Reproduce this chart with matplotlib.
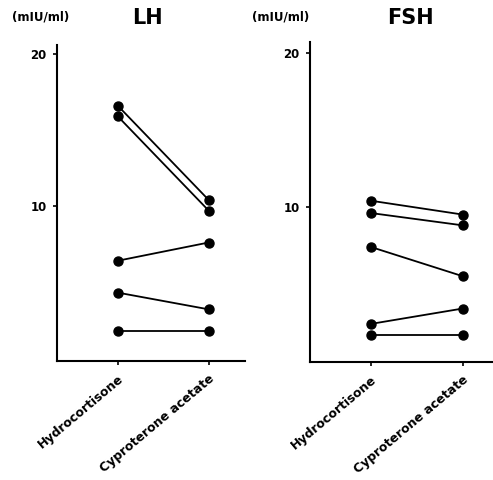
import matplotlib
matplotlib.use("Agg")
import matplotlib.pyplot as plt

plt.rcParams["font.family"] = ["DejaVu Sans"]
plt.rcParams["font.weight"] = "bold"

treatments = ["Hydrocortisone", "Cyproterone acetate"]

# LH (mIU/ml), one pair per patient
lh_hydro = [16.6, 15.9, 6.4, 4.3, 1.8]
lh_cypro = [10.4, 9.7, 7.6, 3.2, 1.8]

# FSH (mIU/ml)
fsh_hydro = [10.4, 9.6, 7.4, 2.4, 1.7]
fsh_cypro = [9.5, 8.8, 5.5, 3.4, 1.7]

W, H = 493, 480
fig = plt.figure(figsize=(W / 100, H / 100), dpi=100)
ax1 = fig.add_axes([57 / W, 1 - 361 / H, 188 / W, 316 / H])
ax2 = fig.add_axes([310 / W, 1 - 362 / H, 183 / W, 320 / H])


def draw(ax, before, after, xlim, ylim):
    for a, b in zip(before, after):
        ax.plot([0, 1], [a, b], color="black", lw=1.3,
                marker="o", ms=6.5, mfc="black", mec="black")
    ax.set_xlim(*xlim)
    ax.set_ylim(*ylim)
    ax.set_yticks([10, 20])
    ax.set_xticks([0, 1])
    ax.set_xticklabels(treatments, rotation=40, ha="right",
                       rotation_mode="anchor", fontsize=9, fontweight="bold")
    ax.tick_params(axis="y", labelsize=8.5, length=3, width=1.2, pad=4.5)
    ax.tick_params(axis="x", length=3, width=1.2, pad=5)
    for lbl in ax.get_yticklabels():
        lbl.set_fontweight("bold")
    ax.spines["top"].set_visible(False)
    ax.spines["right"].set_visible(False)
    ax.spines["left"].set_linewidth(1.5)
    ax.spines["bottom"].set_linewidth(1.5)


draw(ax1, lh_hydro, lh_cypro, (-0.67, 1.40), (-0.2, 20.6))
draw(ax2, fsh_hydro, fsh_cypro, (-0.66, 1.33), (-0.07, 20.7))

fig.text(147 / W, 1 - 18 / H, "LH", fontsize=15, fontweight="bold",
         ha="center", va="center")
fig.text(410 / W, 1 - 18 / H, "FSH", fontsize=15, fontweight="bold",
         ha="center", va="center")
fig.text(41 / W, 1 - 17 / H, "(mIU/ml)", fontsize=8.5, fontweight="bold",
         va="center", ha="center")
fig.text(281 / W, 1 - 17 / H, "(mIU/ml)", fontsize=8.5, fontweight="bold",
         va="center", ha="center")

fig.savefig("out.png", dpi=100)
